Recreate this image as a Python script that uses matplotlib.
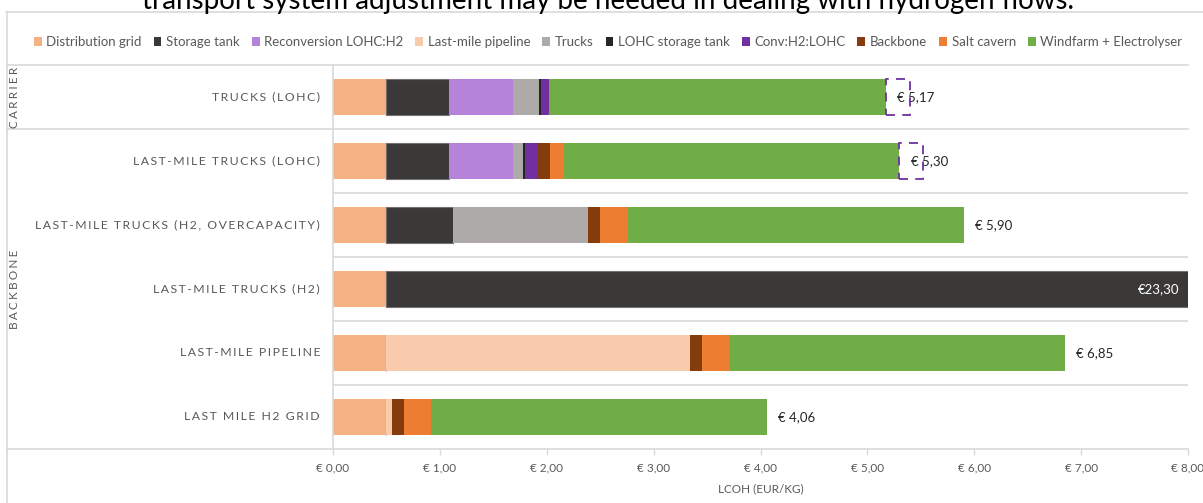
import matplotlib
matplotlib.use("Agg")
import matplotlib.pyplot as plt
import matplotlib.transforms as mtransforms
from matplotlib.patches import Patch, Rectangle
from matplotlib.lines import Line2D

plt.rcParams['font.family'] = ['Lato', 'DejaVu Sans']

# ---- data -------------------------------------------------------------
categories = [
    "TRUCKS (LOHC)",
    "LAST-MILE TRUCKS (LOHC)",
    "LAST-MILE TRUCKS (H2, OVERCAPACITY)",
    "LAST-MILE TRUCKS (H2)",
    "LAST-MILE PIPELINE",
    "LAST MILE H2 GRID",
]
groups = ["CARRIER", "BACKBONE"]
group_sizes = [1, 5]

components = [
    "Distribution grid", "Storage tank", "Reconversion LOHC:H2",
    "Last-mile pipeline", "Trucks", "LOHC storage tank", "Conv:H2:LOHC",
    "Backbone", "Salt cavern", "Windfarm + Electrolyser",
]

distribution_grid  = [0.50, 0.50, 0.50, 0.50, 0.50, 0.50]
storage_tank       = [0.59, 0.59, 0.62, 22.80, 0.00, 0.00]
reconversion       = [0.59, 0.59, 0.00, 0.00, 0.00, 0.00]
last_mile_pipeline = [0.00, 0.00, 0.00, 0.00, 2.84, 0.05]
trucks             = [0.25, 0.10, 1.27, 0.00, 0.00, 0.00]
lohc_storage_tank  = [0.02, 0.02, 0.00, 0.00, 0.00, 0.00]
conv_h2_lohc       = [0.07, 0.12, 0.00, 0.00, 0.00, 0.00]
backbone           = [0.00, 0.11, 0.11, 0.00, 0.11, 0.11]
salt_cavern        = [0.00, 0.13, 0.26, 0.00, 0.26, 0.26]
windfarm           = [3.15, 3.14, 3.14, 0.00, 3.14, 3.14]

series = [distribution_grid, storage_tank, reconversion, last_mile_pipeline,
          trucks, lohc_storage_tank, conv_h2_lohc, backbone, salt_cavern,
          windfarm]

colors = ["#F4B183", "#3B3838", "#B584DA", "#F8CBAD", "#AEAAAA",
          "#262626", "#7030A0", "#843C0C", "#ED7D31", "#70AD47"]
edge_colors = [None, "#767171", None, None, None, None, None, None, None, None]

highlighted = [True, True, False, False, False, False]

x_ticks = [0, 1, 2, 3, 4, 5, 6, 7, 8]
x_max = 8

# ---- styling ----------------------------------------------------------
GRID = "#D9D9D9"
TEXT = "#595959"
W, H = 1203, 503


def euro(v, space=True):
    s = f"{v:.2f}".replace(".", ",")
    return ("€ " if space else "€") + s


def spaced(s, sep="\u2009"):
    return sep.join(s)


fig = plt.figure(figsize=(W / 100, H / 100), dpi=100)
ax = fig.add_axes([333 / W, 54 / H, (1188 - 333) / W, (449 - 65) / H])

n = len(categories)
ypos = [n - 1 - i for i in range(n)]
bar_h = 0.5625

lefts = [0.0] * n
for vals, col, ec in zip(series, colors, edge_colors):
    kw = dict(edgecolor=ec, linewidth=0.8) if ec else dict(linewidth=0)
    ax.barh(ypos, vals, left=lefts, height=bar_h, color=col, **kw)
    lefts = [l + v for l, v in zip(lefts, vals)]

totals = [round(t, 2) for t in lefts]

for y, tot, hl in zip(ypos, totals, highlighted):
    if tot > x_max:
        ax.annotate(euro(tot, space=False), xy=(x_max, y), xytext=(-6, 0),
                    textcoords="offset points", ha="right", va="center",
                    color="white", fontsize=9.5)
    else:
        ax.annotate(euro(tot), xy=(tot, y), xytext=(8, 0),
                    textcoords="offset points", ha="left", va="center",
                    color="#262626", fontsize=9.5)
        if hl:
            ax.add_patch(Rectangle((tot, y - bar_h / 2), 0.225, bar_h,
                                   fill=False, edgecolor="#7030A0",
                                   linewidth=1.3, linestyle=(0, (5, 4)),
                                   zorder=4))

ax.set_xlim(0, x_max)
ax.set_ylim(-0.5, n - 0.5)
for sp in ax.spines.values():
    sp.set_visible(False)

ax.set_xticks(x_ticks)
ax.set_xticklabels([euro(v) for v in x_ticks], color=TEXT, fontsize=8.5)
ax.tick_params(axis="x", length=4, width=1, color=GRID, pad=6)
ax.set_yticks([])
ax.set_xlabel("LCOH (EUR/KG)", color=TEXT, fontsize=8.5, labelpad=7)

# separators between categories inside the plot
for yy in [0.5, 1.5, 2.5, 3.5]:
    ax.axhline(yy, color=GRID, linewidth=1.2, zorder=0)

# group separators reaching over the label column
blend = mtransforms.blended_transform_factory(fig.transFigure, ax.transData)
bounds = [n - 0.5]
acc = n - 0.5
for g in group_sizes:
    acc -= g
    bounds.append(acc)
for yy in bounds:
    fig.add_artist(Line2D([7 / W, 1188 / W], [yy, yy], transform=blend,
                          color=GRID, linewidth=1.2))

# value axis line
ax.plot([0, 0], [n - 0.5, -0.5], color=GRID, linewidth=1.2, clip_on=False,
        zorder=1)

# category labels
for y, cat in zip(ypos, categories):
    fig.text(320 / W, y, spaced(cat), transform=blend, ha="right",
             va="center", color=TEXT, fontsize=8.8)

# group labels
top = n - 0.5
for g, size in zip(groups, group_sizes):
    center = top - size / 2
    fig.text(15 / W, center, spaced(g, "\u2009\u200a"), transform=blend,
             rotation=90, ha="center", va="center", color=TEXT, fontsize=8.4)
    top -= size

# outer frame
fig.add_artist(Line2D([6 / W, 1], [1 - 12 / H, 1 - 12 / H],
                      transform=fig.transFigure, color=GRID, linewidth=1.2))
fig.add_artist(Line2D([6.5 / W, 6.5 / W], [0, 1 - 12 / H],
                      transform=fig.transFigure, color=GRID, linewidth=1.2))

# legend
handles = [Patch(facecolor=c, edgecolor="none") for c in colors]
fig.legend(handles, components, loc="center",
           bbox_to_anchor=(608 / W, 1 - 42 / H), ncol=len(components),
           frameon=False, handlelength=0.6, handleheight=0.6,
           handletextpad=0.35, columnspacing=0.9, fontsize=9.5,
           labelcolor=TEXT, borderaxespad=0)

fig.text(0.505, 1 - 9 / H,
         "transport system adjustment may be needed in dealing with hydrogen flows.",
         ha="center", va="baseline", fontsize=20, color="black")

fig.savefig("out.png", dpi=100)
